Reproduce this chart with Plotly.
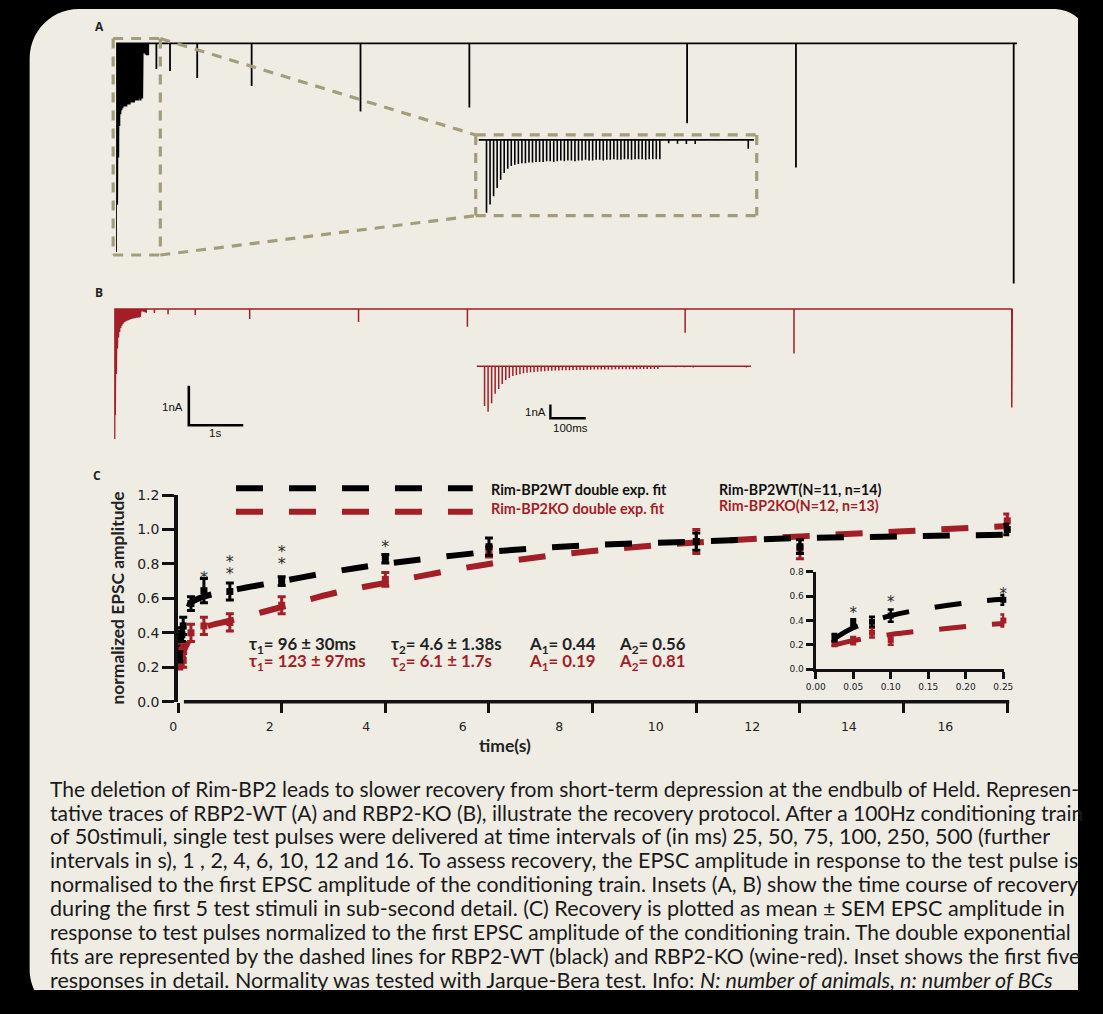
import math
import plotly.graph_objects as go

# The photographed viewport sits inside an 8px frame of the 1103x1014 picture; with the body margin
# removed the figure fills that viewport and is laid out in picture pixels.
OUT_W, OUT_H = 1103, 1014
FRAME = 8
FIG_W, FIG_H = OUT_W - 2 * FRAME, OUT_H - 2 * FRAME
BG = "#EFECE4"
RED = "#A31E26"
KHAKI = "#A49D7B"
INK = "#111111"

# ---------------- data ----------------
stim_interval_s = 0.01
# conditioning train EPSC amplitudes (nA), 50 stimuli at 100 Hz
A_train_nA = [5.3, 4.7, 4.1, 3.5, 2.9, 2.4, 2.1, 1.9, 1.8, 1.75,
              1.7, 1.7, 1.65, 1.65, 1.6, 1.6, 1.6, 1.55, 1.55, 1.6,
              1.55, 1.5, 1.55, 1.5, 1.5, 1.55, 1.5, 1.5, 1.45, 1.5,
              1.5, 1.45, 1.45, 1.5, 1.45, 1.45, 1.4, 1.45, 1.45, 1.4,
              1.4, 1.45, 1.4, 1.4, 1.4, 1.45, 1.4, 1.4, 1.4, 1.4]
B_train_nA = [2.9, 3.3, 2.7, 2.0, 1.65, 1.3, 1.0, 0.85, 0.72, 0.65,
              0.58, 0.52, 0.48, 0.45, 0.42, 0.4, 0.38, 0.36, 0.34, 0.33,
              0.32, 0.31, 0.3, 0.3, 0.29, 0.28, 0.28, 0.27, 0.27, 0.26,
              0.26, 0.25, 0.25, 0.25, 0.24, 0.24, 0.24, 0.23, 0.23, 0.23,
              0.22, 0.22, 0.22, 0.22, 0.21, 0.21, 0.21, 0.2, 0.2, 0.2]
# test pulses after the train
test_intervals_s = [0.025, 0.05, 0.075, 0.1, 0.25, 0.5, 1, 2, 4, 6, 10, 12, 16]
A_test_nA = [0.25, 0.28, 0.3, 0.3, 0.65, 0.7, 0.88, 1.08, 1.73, 1.63, 2.03, 3.15, 6.1]
B_test_nA = [0.06, 0.07, 0.08, 0.09, 0.1, 0.13, 0.15, 0.25, 0.33, 0.45, 0.6, 1.13, 2.5]

# panel C: recovery (normalized EPSC amplitude)
t_C = [0.025, 0.05, 0.075, 0.1, 0.25, 0.5, 1, 2, 4, 6, 10, 12, 16]
wt_mean = [0.26, 0.38, 0.39, 0.44, 0.57, 0.645, 0.64, 0.70, 0.83, 0.90, 0.93, 0.90, 1.00]
wt_sem = [0.03, 0.03, 0.04, 0.05, 0.04, 0.07, 0.05, 0.025, 0.025, 0.05, 0.05, 0.04, 0.03]
ko_mean = [0.21, 0.235, 0.30, 0.24, 0.40, 0.44, 0.46, 0.56, 0.71, 0.87, 0.93, 0.89, 1.05]
ko_sem = [0.02, 0.03, 0.04, 0.04, 0.05, 0.05, 0.05, 0.05, 0.04, 0.03, 0.07, 0.06, 0.04]

# double-exponential fit curves
fit_t = [0.025, 0.05, 0.1, 0.15, 0.2, 0.25, 0.5, 1, 2, 3, 4, 6, 8, 10, 12, 14, 16]
wt_fit = [0.25, 0.34, 0.44, 0.50, 0.545, 0.575, 0.61, 0.645, 0.70, 0.755, 0.80, 0.87, 0.91, 0.93, 0.95, 0.96, 0.97]
ko_fit = [0.20, 0.235, 0.285, 0.32, 0.35, 0.375, 0.43, 0.47, 0.55, 0.63, 0.69, 0.80, 0.875, 0.925, 0.96, 0.99, 1.02]

# significance marks (glyph centres)
sig_t = [0.5, 1, 1, 2, 2, 4]
sig_y = [0.80, 0.89, 0.82, 0.95, 0.88, 0.98]
inset_sig_t = [0.05, 0.10, 0.25]
inset_sig_y = [0.57, 0.66, 0.72]

x_ticks_C = [0, 2, 4, 6, 8, 10, 12, 14, 16]
y_ticks_C = [0.0, 0.2, 0.4, 0.6, 0.8, 1.0, 1.2]
x_ticks_inset = [0.0, 0.05, 0.10, 0.15, 0.20, 0.25]
y_ticks_inset = [0.0, 0.2, 0.4, 0.6, 0.8]

caption_lines = [
    "The deletion of Rim-BP2 leads to slower recovery from short-term depression at the endbulb of Held. Represen-",
    "tative traces of RBP2-WT (A) and RBP2-KO (B), illustrate the recovery protocol. After a 100Hz conditioning train",
    "of 50stimuli, single test pulses were delivered at time intervals of (in ms) 25, 50, 75, 100, 250, 500 (further",
    "intervals in s), 1 , 2, 4, 6, 10, 12 and 16. To assess recovery, the EPSC amplitude in response to the test pulse is",
    "normalised to the first EPSC amplitude of the conditioning train. Insets (A, B) show the time course of recovery",
    "during the first 5 test stimuli in sub-second detail. (C) Recovery is plotted as mean \u00b1 SEM EPSC amplitude in",
    "response to test pulses normalized to the first EPSC amplitude of the conditioning train. The double exponential",
    "fits are represented by the dashed lines for RBP2-WT (black) and RBP2-KO (wine-red). Inset shows the first five",
    "responses in detail. Normality was tested with Jarque-Bera test. Info: <i>N: number of animals, n: number of BCs</i>",
]
caption_sizes = [21.0, 21.1, 21.6, 21.4, 21.3, 21.6, 20.9, 21.2, 21.5]


# ---------------- helpers (picture pixels -> paper fractions) ----------------
def fx(p):
    return (p - FRAME) / FIG_W


def fy(p):
    return 1 - (p - FRAME) / FIG_H


def build_trace(train, tests, t_start, t_end, max_interval=None):
    xs, ys = [t_start], [0.0]
    for k, a in enumerate(train):
        t = k * stim_interval_s
        xs += [t, t, t]
        ys += [0.0, -a, 0.0]
    t_last = (len(train) - 1) * stim_interval_s
    for iv, a in zip(test_intervals_s, tests):
        if max_interval is not None and iv > max_interval:
            continue
        t = t_last + iv
        xs += [t, t, t]
        ys += [0.0, -a, 0.0]
    xs.append(t_end)
    ys.append(0.0)
    return xs, ys


T_LAST = (len(A_train_nA) - 1) * stim_interval_s
fig = go.Figure()

# ---------------- panel A / B traces ----------------
PX_S_MAIN, PX_NA_MAIN = 55.4, 40.0
PX_S_INS, PX_NA_INS = 360.0, 14.0

xa, ya = build_trace(A_train_nA, A_test_nA, -0.03, T_LAST + 16 + 0.06)
fig.add_trace(go.Scatter(x=xa, y=ya, mode="lines", line=dict(color="#000", width=1.8),
                         xaxis="x", yaxis="y", hoverinfo="skip"))
xb, yb = build_trace(B_train_nA, B_test_nA, -0.02, T_LAST + 16 + 0.01)
fig.add_trace(go.Scatter(x=xb, y=yb, mode="lines", line=dict(color=RED, width=1.5),
                         xaxis="x2", yaxis="y2", hoverinfo="skip"))
xai, yai = build_trace(A_train_nA, A_test_nA, -0.022, 0.756, max_interval=0.25)
fig.add_trace(go.Scatter(x=xai, y=yai, mode="lines", line=dict(color="#000", width=1.6),
                         xaxis="x3", yaxis="y3", hoverinfo="skip"))
xbi, ybi = build_trace(B_train_nA, B_test_nA, -0.022, 0.753, max_interval=0.25)
fig.add_trace(go.Scatter(x=xbi, y=ybi, mode="lines", line=dict(color=RED, width=1.5),
                         xaxis="x4", yaxis="y4", hoverinfo="skip"))

# scale bars (1 nA / 1 s in main B axes; 1 nA / 100 ms in inset B axes)
sb_x0 = (190 - 114) / PX_S_MAIN
sb_y0 = -(392 - 314) / PX_NA_MAIN
fig.add_trace(go.Scatter(x=[sb_x0, sb_x0, sb_x0 + 1.0], y=[sb_y0, sb_y0 - 1.0, sb_y0 - 1.0],
                         mode="lines", line=dict(color="#000", width=2.6),
                         xaxis="x2", yaxis="y2", hoverinfo="skip"))
sbi_x0 = (558 - 491) / PX_S_INS
sbi_y0 = -(411 - 372) / PX_NA_INS
fig.add_trace(go.Scatter(x=[sbi_x0, sbi_x0, sbi_x0 + 0.1], y=[sbi_y0, sbi_y0 - 1.0, sbi_y0 - 1.0],
                         mode="lines", line=dict(color="#000", width=2.4),
                         xaxis="x4", yaxis="y4", hoverinfo="skip"))

# ---------------- panel C main ----------------
DASH = "27px,26px"
fig.add_trace(go.Scatter(x=fit_t, y=ko_fit, mode="lines", line=dict(color=RED, width=6, dash=DASH, shape="spline"),
                         xaxis="x5", yaxis="y5", hoverinfo="skip"))
fig.add_trace(go.Scatter(x=fit_t, y=wt_fit, mode="lines", line=dict(color="#000", width=6, dash=DASH, shape="spline"),
                         xaxis="x5", yaxis="y5", hoverinfo="skip"))
fig.add_trace(go.Scatter(x=t_C, y=ko_mean, mode="markers",
                         marker=dict(symbol="square", size=7, color=RED),
                         error_y=dict(type="data", array=ko_sem, color=RED, thickness=3, width=4),
                         xaxis="x5", yaxis="y5", cliponaxis=False, hoverinfo="skip"))
fig.add_trace(go.Scatter(x=t_C, y=wt_mean, mode="markers",
                         marker=dict(symbol="square", size=7, color="#000"),
                         error_y=dict(type="data", array=wt_sem, color="#000", thickness=3, width=4),
                         xaxis="x5", yaxis="y5", cliponaxis=False, hoverinfo="skip"))
GLYPH_DROP = 0.085  # the asterisk glyph sits well above its text anchor
fig.add_trace(go.Scatter(x=sig_t, y=[v - GLYPH_DROP for v in sig_y], mode="text", text=["*"] * len(sig_t),
                         textposition="middle center",
                         textfont=dict(family="DejaVu Sans", size=16, color="#2a2a2a"),
                         xaxis="x5", yaxis="y5", cliponaxis=False, hoverinfo="skip"))
# invisible carrier for the tick-label axis
fig.add_trace(go.Scatter(x=[0], y=[0], mode="markers", marker=dict(opacity=0, size=1),
                         xaxis="x6", yaxis="y5", hoverinfo="skip"))

# ---------------- panel C inset ----------------
fig.add_trace(go.Scatter(x=fit_t, y=ko_fit, mode="lines", line=dict(color=RED, width=5, dash=DASH, shape="spline"),
                         xaxis="x7", yaxis="y7", hoverinfo="skip"))
fig.add_trace(go.Scatter(x=fit_t, y=wt_fit, mode="lines", line=dict(color="#000", width=5, dash=DASH, shape="spline"),
                         xaxis="x7", yaxis="y7", hoverinfo="skip"))
ins_t = [t for t in t_C if t <= 0.25]
n_ins = len(ins_t)
fig.add_trace(go.Scatter(x=ins_t, y=ko_mean[:n_ins], mode="markers",
                         marker=dict(symbol="square", size=6, color=RED),
                         error_y=dict(type="data", array=ko_sem[:n_ins], color=RED, thickness=2.5, width=3),
                         xaxis="x7", yaxis="y7", cliponaxis=False, hoverinfo="skip"))
fig.add_trace(go.Scatter(x=ins_t, y=wt_mean[:n_ins], mode="markers",
                         marker=dict(symbol="square", size=6, color="#000"),
                         error_y=dict(type="data", array=wt_sem[:n_ins], color="#000", thickness=2.5, width=3),
                         xaxis="x7", yaxis="y7", cliponaxis=False, hoverinfo="skip"))
fig.add_trace(go.Scatter(x=inset_sig_t, y=[v - 0.115 for v in inset_sig_y], mode="text",
                         text=["*"] * len(inset_sig_t), textposition="middle center",
                         textfont=dict(family="DejaVu Sans", size=15, color="#2a2a2a"),
                         xaxis="x7", yaxis="y7", cliponaxis=False, hoverinfo="skip"))

# ---------------- axes ----------------
hidden = dict(visible=False, fixedrange=True)
layout_axes = dict(
    xaxis=dict(hidden, domain=[fx(116), fx(1040)], range=[0, (1040 - 116) / PX_S_MAIN], anchor="y"),
    yaxis=dict(hidden, domain=[fy(300), fy(30)], range=[-(300 - 44) / PX_NA_MAIN, (44 - 30) / PX_NA_MAIN], anchor="x"),
    xaxis2=dict(hidden, domain=[fx(114), fx(1040)], range=[0, (1040 - 114) / PX_S_MAIN], anchor="y2"),
    yaxis2=dict(hidden, domain=[fy(460), fy(300)], range=[-(460 - 314) / PX_NA_MAIN, (314 - 300) / PX_NA_MAIN], anchor="x2"),
    xaxis3=dict(hidden, domain=[fx(480), fx(775)], range=[(480 - 493) / PX_S_INS, (775 - 493) / PX_S_INS], anchor="y3"),
    yaxis3=dict(hidden, domain=[fy(232), fy(130)], range=[-(232 - 142) / PX_NA_INS, (142 - 130) / PX_NA_INS], anchor="x3"),
    xaxis4=dict(hidden, domain=[fx(480), fx(775)], range=[(480 - 491) / PX_S_INS, (775 - 491) / PX_S_INS], anchor="y4"),
    yaxis4=dict(hidden, domain=[fy(440), fy(360)], range=[-(440 - 372) / PX_NA_INS, (372 - 360) / PX_NA_INS], anchor="x4"),
    xaxis5=dict(domain=[fx(179), fx(1025)], range=[0, (1025 - 179) / 52.75], anchor="y5",
                showgrid=False, zeroline=False, showline=False, ticks="outside", ticklen=10,
                tickwidth=3, tickcolor=INK, tickvals=x_ticks_C, showticklabels=False, fixedrange=True),
    yaxis5=dict(domain=[fy(713), fy(503)], range=[0, 1.2], anchor="x5",
                showgrid=False, zeroline=False, showline=True, linewidth=3.5, linecolor=INK,
                ticks="outside", ticklen=12, tickwidth=3, tickcolor=INK, tickvals=y_ticks_C,
                ticktext=[f"{v:.1f}" for v in y_ticks_C],
                tickfont=dict(family="DejaVu Sans", size=14, color="#222"), fixedrange=True),
    xaxis6=dict(domain=[fx(174), fx(960)], range=[0, 16], anchor="y5",
                showgrid=False, zeroline=False, showline=False, ticks="outside", ticklen=13,
                tickcolor="rgba(0,0,0,0)", tickvals=x_ticks_C, ticktext=[str(v) for v in x_ticks_C],
                tickfont=dict(family="DejaVu Sans", size=12.5, color="#222"), fixedrange=True),
    xaxis7=dict(domain=[fx(828), fx(1020)], range=[0, 0.25 * 192 / 191], anchor="y7",
                showgrid=False, zeroline=False, showline=True, linewidth=3, linecolor=INK,
                ticks="outside", ticklen=7, tickwidth=3, tickcolor=INK, tickvals=x_ticks_inset,
                ticktext=[f"{v:.2f}" for v in x_ticks_inset],
                tickfont=dict(family="DejaVu Sans", size=9, color="#222"), fixedrange=True),
    yaxis7=dict(domain=[fy(680), fy(581)], range=[0, 0.8], anchor="x7",
                showgrid=False, zeroline=False, showline=True, linewidth=3, linecolor=INK,
                ticks="outside", ticklen=7, tickwidth=3, tickcolor=INK, tickvals=y_ticks_inset,
                ticktext=[f"{v:.1f}" for v in y_ticks_inset],
                tickfont=dict(family="DejaVu Sans", size=9, color="#222"), fixedrange=True),
)


# ---------------- shapes ----------------
def P(x, y):
    return f"{fx(x):.6f},{fy(y):.6f}"


def arc(cx, cy, r, a0, a1, n=14):
    pts = []
    for i in range(n + 1):
        a = math.radians(a0 + (a1 - a0) * i / n)
        pts.append(P(cx + r * math.cos(a), cy + r * math.sin(a)))
    return pts


RIGHT, BOTTOM = FRAME + FIG_W, FRAME + FIG_H  # figure edges in picture pixels
tl = arc(78, 59, 50, 180, 270)
r_tr = 38.2
a_end = math.degrees(math.acos((RIGHT - 1070) / r_tr))
tr = arc(1070, 9 + r_tr, r_tr, 270, 360 - a_end)
bl_y = 985
a_bl = math.degrees(math.asin((BOTTOM - bl_y) / 50))
bl = arc(78, bl_y, 50, 180 - a_bl, 180)
path = "M " + " L ".join(tl + tr + [P(RIGHT, BOTTOM)] + bl) + " Z"
shapes = [dict(type="path", path=path, xref="paper", yref="paper", fillcolor=BG,
               line=dict(width=0), layer="below")]

kh = dict(color=KHAKI, width=3.2, dash="10px,8px")
for (x0, y0, x1, y1) in [(113, 39, 161, 39), (113, 39, 113, 259), (113, 259, 161, 259), (161, 39, 161, 259),
                         (161, 39, 482, 137), (161, 259, 482, 219),
                         (482, 137, 768, 137), (482, 219, 768, 219), (482, 137, 482, 219), (768, 137, 768, 219)]:
    shapes.append(dict(type="line", xref="paper", yref="paper", x0=fx(x0), y0=fy(y0), x1=fx(x1), y1=fy(y1),
                       line=kh, layer="above"))

# main C x-axis line (offset from the y axis)
shapes.append(dict(type="line", xref="paper", yref="paper", x0=fx(185), y0=fy(713), x1=fx(1025), y1=fy(713),
                   line=dict(color=INK, width=3.5)))
# legend dash samples
shapes.append(dict(type="line", xref="paper", yref="paper", x0=fx(238), y0=fy(496), x1=fx(479), y1=fy(496),
                   line=dict(color="#000", width=6, dash=DASH)))
shapes.append(dict(type="line", xref="paper", yref="paper", x0=fx(238), y0=fy(520), x1=fx(479), y1=fy(520),
                   line=dict(color=RED, width=6, dash=DASH)))

# ---------------- annotations ----------------
ann = []


def text(x, y, s, size=14, color=INK, xanchor="left", family="Lato", angle=0):
    ann.append(dict(x=fx(x), y=fy(y), xref="paper", yref="paper", text=s, showarrow=False,
                    xanchor=xanchor, yanchor="middle", textangle=angle,
                    font=dict(family=family, size=size, color=color)))


text(99, 27, "<b>A</b>", 12, "#222", "center", "Open Sans")
text(99, 297, "<b>B</b>", 12, "#222", "center", "Open Sans")
text(97, 483, "<b>C</b>", 12, "#222", "center", "Open Sans")
text(173.5, 413, "1nA", 11.5, INK, "center", "Liberation Sans")
text(217, 440, "1s", 11.5, INK, "center", "Liberation Sans")
text(543, 419, "1nA", 11.5, INK, "center", "Liberation Sans")
text(578, 435, "100ms", 11.5, INK, "center", "Liberation Sans")

text(496, 497, "<b>Rim-BP2WT double exp. fit</b>", 14.4, INK)
text(496, 517, "<b>Rim-BP2KO double exp. fit</b>", 14.4, RED)
text(728, 497, "<b>Rim-BP2WT(N=11, n=14)</b>", 14.2, INK)
text(728, 514, "<b>Rim-BP2KO(N=12, n=13)</b>", 14.2, RED)

PS = 16.8
text(249, 655, "<b>\u03c4<sub>1</sub>= 96 \u00b1 30ms</b>", PS, "#222")
text(249, 673, "<b>\u03c4<sub>1</sub>= 123 \u00b1 97ms</b>", PS, RED)
text(394, 655, "<b>\u03c4<sub>2</sub>= 4.6 \u00b1 1.38s</b>", PS, "#222")
text(394, 673, "<b>\u03c4<sub>2</sub>= 6.1 \u00b1 1.7s</b>", PS, RED)
text(534, 655, "<b>A<sub>1</sub>= 0.44</b>", PS, "#222")
text(534, 673, "<b>A<sub>1</sub>= 0.19</b>", PS, RED)
text(626, 655, "<b>A<sub>2</sub>= 0.56</b>", PS, "#222")
text(626, 673, "<b>A<sub>2</sub>= 0.81</b>", PS, RED)

text(512, 758, "<b>time(s)</b>", 17.5, "#222", "center")
text(117, 608, "<b>normalized EPSC amplitude</b>", 17.4, "#222", "center", angle=-90)

for i, (line, sz) in enumerate(zip(caption_lines, caption_sizes)):
    text(47, 801 + i * 24.3, line, sz, "#1a1a1a", "left")

fig.update_layout(
    width=FIG_W, height=FIG_H, margin=dict(l=0, r=0, t=0, b=0),
    paper_bgcolor="#000000", plot_bgcolor="rgba(0,0,0,0)",
    showlegend=False, shapes=shapes, annotations=ann,
    font=dict(family="Lato", color=INK),
    **layout_axes,
)

post = (
    "var s=document.createElement('style');"
    "s.textContent='html,body{margin:0!important;padding:0!important;background:#000;overflow:hidden;}';"
    "document.head.appendChild(s);"
)
fig.write_html("out.html", config={"displayModeBar": False}, post_script=post)
